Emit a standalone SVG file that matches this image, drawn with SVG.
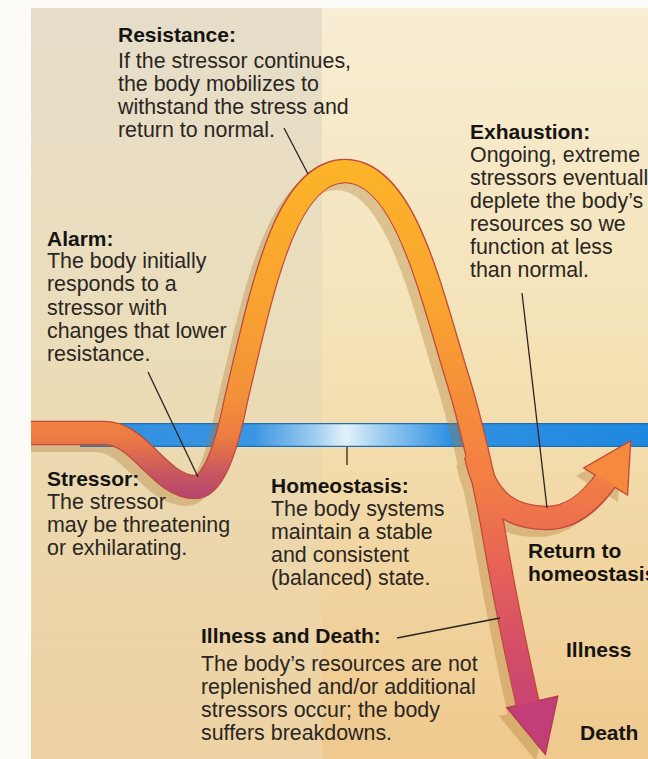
<svg xmlns="http://www.w3.org/2000/svg" width="648" height="759" viewBox="0 0 648 759">
<defs>
<style>
.h{font-family:"Liberation Sans",Arial,sans-serif;font-weight:bold;font-size:21px;fill:#161412}
.t{font-family:"Liberation Sans",Arial,sans-serif;font-size:21.4px;fill:#2a2622}
.lead{stroke:#2a2420;stroke-width:1.3;fill:none}
.ol{fill:none;stroke:#c04a3a;stroke-width:24.5}
.sh{fill:none;stroke:#a8742c;stroke-width:22}
</style>
<clipPath id="panel"><rect x="31" y="8" width="617" height="751"/></clipPath>
<linearGradient id="bg" x1="0" y1="8" x2="0" y2="759" gradientUnits="userSpaceOnUse">
<stop offset="0" stop-color="#f8eed4"/>
<stop offset="0.45" stop-color="#f4e2b6"/>
<stop offset="1" stop-color="#efc98e"/>
</linearGradient>
<linearGradient id="leftTint" x1="0" y1="8" x2="0" y2="759" gradientUnits="userSpaceOnUse">
<stop offset="0" stop-color="#d6d0c0" stop-opacity="0.55"/>
<stop offset="0.6" stop-color="#dcd4bd" stop-opacity="0.3"/>
<stop offset="1" stop-color="#ece2c6" stop-opacity="0.4"/>
</linearGradient>
<linearGradient id="blue" x1="31" y1="0" x2="648" y2="0" gradientUnits="userSpaceOnUse">
<stop offset="0" stop-color="#2a8ce0"/>
<stop offset="0.36" stop-color="#3a95e2"/>
<stop offset="0.46" stop-color="#9fcdf0"/>
<stop offset="0.51" stop-color="#e2f1f8"/>
<stop offset="0.57" stop-color="#9accf0"/>
<stop offset="0.68" stop-color="#2f90e2"/>
<stop offset="1" stop-color="#1e88e0"/>
</linearGradient>
<linearGradient id="gL" x1="0" y1="160" x2="0" y2="500" gradientUnits="userSpaceOnUse">
<stop offset="0" stop-color="#fcb428"/>
<stop offset="0.41" stop-color="#f8a330"/>
<stop offset="0.7" stop-color="#f3903a"/>
<stop offset="0.82" stop-color="#ec7a42"/>
<stop offset="0.91" stop-color="#cc5a5e"/>
<stop offset="1" stop-color="#b24470"/>
</linearGradient>
<linearGradient id="gR" x1="0" y1="160" x2="0" y2="755" gradientUnits="userSpaceOnUse">
<stop offset="0" stop-color="#fcb428"/>
<stop offset="0.235" stop-color="#f9a530"/>
<stop offset="0.403" stop-color="#f58d3a"/>
<stop offset="0.54" stop-color="#f27e45"/>
<stop offset="0.672" stop-color="#e86455"/>
<stop offset="0.824" stop-color="#d44e68"/>
<stop offset="1" stop-color="#c03c7a"/>
</linearGradient>
</defs>

<g id="background">
<rect x="0" y="0" width="648" height="759" fill="#fcfbf8"/>
<rect x="31" y="8" width="617" height="751" fill="url(#bg)"/>
<rect x="31" y="8" width="291" height="751" fill="url(#leftTint)"/>
</g>

<g id="homeostasis-band">
<rect x="80" y="423" width="568" height="24" fill="url(#blue)"/>
<line x1="80" y1="423.6" x2="648" y2="423.6" stroke="#1b6fb8" stroke-width="1.2"/>
<line x1="80" y1="446.4" x2="648" y2="446.4" stroke="#1b6fb8" stroke-width="1.2"/>
</g>

<g id="curve">
<g id="shadow" clip-path="url(#panel)">
<g transform="translate(-9,8)" opacity="0.32">
<path class="sh" d="M20 433 H105 C140 433 160 487 195 487 C213 487 226 450 236 400 C262 290 285 171 345 171 C405 171 430 290 458 380 C467 409 485 480 495 540 C505 600 518 660 528 708"/>
<path class="sh" d="M476 455 C486 505 515 518 547 518 C572 518 592 500 608 478"/>
<polygon points="508,708 557,697 545,753" fill="#a8742c"/>
<polygon points="585,468 630,442 627,494" fill="#a8742c"/>
</g>
</g>
<g id="outline">
<path class="ol" d="M31 433 H105 C140 433 160 487 195 487 C213 487 226 450 236 400 C262 290 285 171 345 171 C405 171 430 290 458 380 C467 409 485 480 495 540 C505 600 518 660 528 705"/>
<path class="ol" d="M476 455 C486 505 515 518 547 518 C572 518 592 500 606 480"/>
<polygon points="508,708 557,697 545,753" fill="#c04a3a" stroke="#b23c4c" stroke-width="2.6" stroke-linejoin="miter"/>
<polygon points="585,468 630,442 627,494" fill="#c04a3a" stroke="#c04a3a" stroke-width="2.6" stroke-linejoin="miter"/>
</g>
<g id="fill">
<path fill="none" stroke="url(#gL)" stroke-width="22" d="M31 433 H105 C140 433 160 487 195 487 C213 487 226 450 236 400 C262 290 285 171 346 171"/>
<path fill="none" stroke="url(#gR)" stroke-width="22" d="M344 171 C405 171 430 290 458 380 C467 409 485 480 495 540 C505 600 518 660 529 712"/>
<path fill="none" stroke="url(#gR)" stroke-width="22" d="M476 455 C486 505 515 518 547 518 C572 518 592 500 609 476"/>
<polygon points="508,708 557,697 545,753" fill="#c23e78"/>
<polygon points="585,468 630,442 627,494" fill="#f5893e"/>
</g>
</g>

<g id="connectors">
<line class="lead" x1="284" y1="128" x2="308" y2="174"/>
<line class="lead" x1="148" y1="372" x2="198" y2="477"/>
<line class="lead" x1="347" y1="447" x2="347" y2="465"/>
<line class="lead" x1="522" y1="293" x2="547" y2="508"/>
<line class="lead" x1="397" y1="638" x2="500" y2="618"/>
</g>

<g id="resistance">
<text class="h" x="118" y="42">Resistance:</text>
<text class="t" x="118" y="68"><tspan x="118">If the stressor continues,</tspan><tspan x="118" dy="23">the body mobilizes to</tspan><tspan x="118" dy="23">withstand the stress and</tspan><tspan x="118" dy="23">return to normal.</tspan></text>
</g>

<g id="exhaustion">
<text class="h" x="470" y="139">Exhaustion:</text>
<text class="t" x="470" y="162"><tspan x="470">Ongoing, extreme</tspan><tspan x="470" dy="23">stressors eventually</tspan><tspan x="470" dy="23">deplete the body’s</tspan><tspan x="470" dy="23">resources so we</tspan><tspan x="470" dy="23">function at less</tspan><tspan x="470" dy="23">than normal.</tspan></text>
</g>

<g id="alarm">
<text class="h" x="47" y="246">Alarm:</text>
<text class="t" x="47" y="268"><tspan x="47">The body initially</tspan><tspan x="47" dy="23.3">responds to a</tspan><tspan x="47" dy="23.3">stressor with</tspan><tspan x="47" dy="23.3">changes that lower</tspan><tspan x="47" dy="23.3">resistance.</tspan></text>
</g>

<g id="stressor">
<text class="h" x="47" y="486">Stressor:</text>
<text class="t" x="47" y="509"><tspan x="47">The stressor</tspan><tspan x="47" dy="23">may be threatening</tspan><tspan x="47" dy="23">or exhilarating.</tspan></text>
</g>

<g id="homeostasis">
<text class="h" x="271" y="493">Homeostasis:</text>
<text class="t" x="271" y="516"><tspan x="271">The body systems</tspan><tspan x="271" dy="23">maintain a stable</tspan><tspan x="271" dy="23">and consistent</tspan><tspan x="271" dy="23">(balanced) state.</tspan></text>
</g>

<g id="return">
<text class="h" x="528" y="558"><tspan x="528">Return to</tspan><tspan x="528" dy="23">homeostasis</tspan></text>
</g>

<g id="illness-death">
<text class="h" x="201" y="643">Illness and Death:</text>
<text class="t" x="201" y="671"><tspan x="201">The body’s resources are not</tspan><tspan x="201" dy="23">replenished and/or additional</tspan><tspan x="201" dy="23">stressors occur; the body</tspan><tspan x="201" dy="23">suffers breakdowns.</tspan></text>
</g>

<g id="illness">
<text class="h" x="566" y="657">Illness</text>
</g>

<g id="death">
<text class="h" x="580" y="740">Death</text>
</g>
</svg>
